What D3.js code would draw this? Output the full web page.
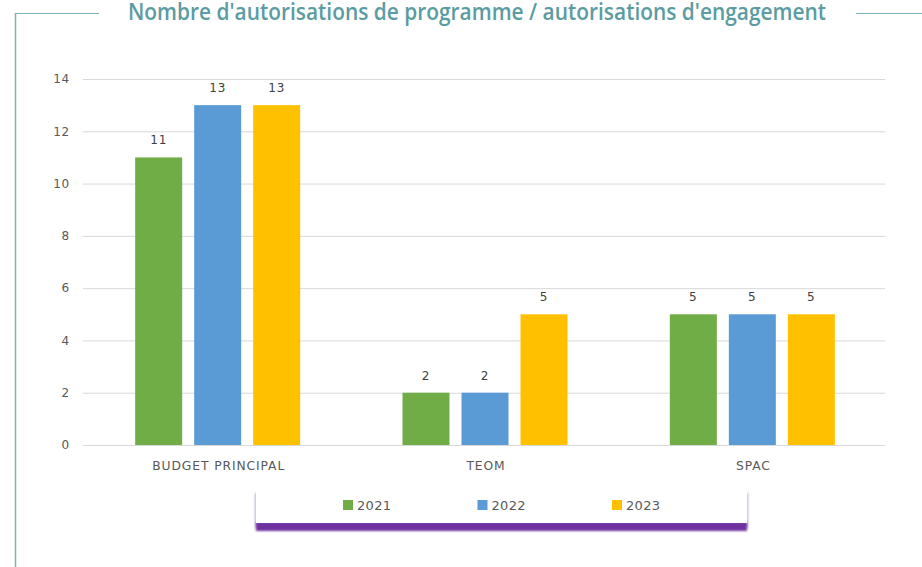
<!DOCTYPE html>
<html>
<head>
<meta charset="utf-8">
<script src="https://cdn.jsdelivr.net/npm/d3@7"></script>
<style>
html,body{margin:0;padding:0;background:#fff;}
svg{display:block;}
</style>
</head>
<body>
<svg id="chart" width="922" height="567"></svg>
<script>
const title = "Nombre d'autorisations de programme / autorisations d'engagement";
const categories = ["BUDGET PRINCIPAL", "TEOM", "SPAC"];
const seriesNames = ["2021", "2022", "2023"];
const values2021 = [11, 2, 5];
const values2022 = [13, 2, 5];
const values2023 = [13, 5, 5];
const seriesColors = ["#70ad47", "#5b9bd5", "#ffc000"];
const yTicks = [0, 2, 4, 6, 8, 10, 12, 14];

const seriesValues = [values2021, values2022, values2023];
const svg = d3.select("#chart");
const labelFont = "'DejaVu Sans', 'Liberation Sans', sans-serif";

const defs = svg.append("defs");
const blur = defs.append("filter").attr("id", "blur").attr("x", "-10%").attr("y", "-50%").attr("width", "120%").attr("height", "200%");
blur.append("feGaussianBlur").attr("stdDeviation", 1.3);

// Frame
const frameColor = "#7fb3b9";
svg.append("line").attr("x1", 15.5).attr("x2", 15.5).attr("y1", 13).attr("y2", 567).attr("stroke", frameColor).attr("stroke-width", 1.5);
svg.append("line").attr("x1", 15).attr("x2", 99).attr("y1", 13.5).attr("y2", 13.5).attr("stroke", frameColor).attr("stroke-width", 1.2);
svg.append("line").attr("x1", 856).attr("x2", 922).attr("y1", 13.5).attr("y2", 13.5).attr("stroke", frameColor).attr("stroke-width", 1.2);

// Title
svg.append("text")
  .attr("x", 128).attr("y", 20)
  .attr("textLength", 698).attr("lengthAdjust", "spacingAndGlyphs")
  .attr("font-family", "'Open Sans', sans-serif")
  .attr("font-size", 24).attr("font-weight", 600)
  .attr("fill", "#5b9ca2")
  .text(title);

const x0 = d3.scaleBand().domain(categories).range([83, 885]).padding(0);
const step = 59, bw = 47;
const innerW = step * 3 - (step - bw);
const x1 = d3.scaleBand().domain(seriesNames).range([0, innerW]).paddingInner((step - bw) / step).paddingOuter(0);
const y = d3.scaleLinear().domain([0, 14]).range([445, 79]);

// Gridlines via axis
const gridAxis = d3.axisLeft(y).tickValues(yTicks).tickSize(-(885 - 83)).tickFormat("");
const grid = svg.append("g").attr("transform", "translate(83,0)").call(gridAxis);
grid.select(".domain").remove();
grid.selectAll("line").attr("stroke", "#d9d9d9").attr("stroke-width", 1);

// Y labels
const yAxis = d3.axisLeft(y).tickValues(yTicks).tickSize(0).tickPadding(0);
const ya = svg.append("g").attr("transform", "translate(70,0)").call(yAxis);
ya.select(".domain").remove();
ya.selectAll("text").attr("font-family", labelFont).attr("font-size", 12).attr("letter-spacing", 0.8).attr("fill", "#595959");

// Bars
const groups = svg.append("g").selectAll("g").data(categories).join("g")
  .attr("transform", c => `translate(${x0(c) + (x0.bandwidth() - innerW) / 2 + 1},0)`);
groups.each(function(c, ci) {
  const g = d3.select(this);
  seriesNames.forEach((s, si) => {
    const v = seriesValues[si][ci];
    g.append("rect")
      .attr("x", x1(s)).attr("width", x1.bandwidth())
      .attr("y", y(v)).attr("height", y(0) - y(v))
      .attr("fill", seriesColors[si]);
    g.append("text")
      .attr("x", x1(s) + x1.bandwidth() / 2)
      .attr("y", y(v) - 13)
      .attr("text-anchor", "middle")
      .attr("font-family", labelFont)
      .attr("font-size", 12).attr("letter-spacing", 0.8).attr("fill", "#404040")
      .text(v);
  });
});

// X axis labels
const xAxis = d3.axisBottom(x0).tickSize(0).tickPadding(0);
const xa = svg.append("g").attr("transform", "translate(2,461)").call(xAxis);
xa.select(".domain").remove();
xa.selectAll("text").attr("font-family", labelFont).attr("font-size", 12.3).attr("letter-spacing", 0.9).attr("fill", "#595959");

// Legend box with purple shadow
const lg = svg.append("g");
lg.append("rect").attr("x", 255).attr("y", 493).attr("width", 493).attr("height", 35).attr("fill", "#c3acdf").attr("filter", "url(#blur)");
lg.append("rect").attr("x", 256).attr("y", 522).attr("width", 491).attr("height", 9).attr("fill", "#7030a0").attr("filter", "url(#blur)");
lg.append("rect").attr("x", 256).attr("y", 486).attr("width", 491).attr("height", 37).attr("fill", "#fff");

const legendX = d3.scalePoint().domain(seriesNames).range([343, 612]);
seriesNames.forEach((s, i) => {
  const lx = legendX(s);
  lg.append("rect").attr("x", lx).attr("y", 500).attr("width", 10).attr("height", 10).attr("fill", seriesColors[i]);
  lg.append("text").attr("x", lx + 14).attr("y", 510)
    .attr("font-family", labelFont)
    .attr("font-size", 13).attr("letter-spacing", 0.3).attr("fill", "#595959").text(s);
});
</script>
</body>
</html>
